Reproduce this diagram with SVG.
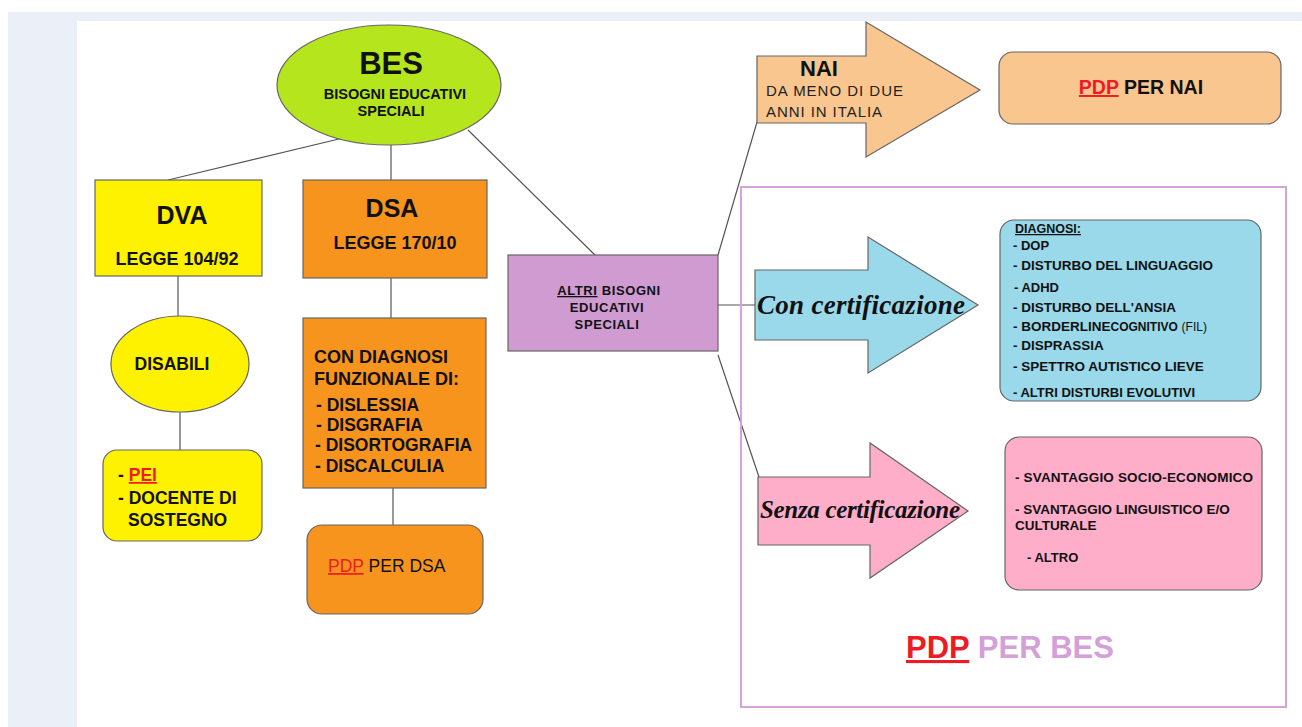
<svg xmlns="http://www.w3.org/2000/svg" width="1302" height="727" viewBox="0 0 1302 727">
<style>
.ln{stroke:#555;stroke-width:1.2;fill:none}
.bx{stroke:#666;stroke-width:1.2}
.b{font-family:"Liberation Sans",Arial,sans-serif;font-weight:bold;fill:#111}
.n{font-family:"Liberation Sans",Arial,sans-serif;fill:#111}
.red{fill:#ED1C24;text-decoration:underline}
.cur{font-family:"Liberation Serif","DejaVu Serif",serif;font-style:italic;font-weight:bold;fill:#111}
.cal{font-family:"Liberation Sans",Arial,sans-serif;fill:#222}
</style>
<rect x="0" y="0" width="1302" height="727" fill="#ffffff"/>
<rect x="8" y="12" width="1294" height="715" fill="#EBF0F8"/>
<rect x="77" y="21" width="1225" height="706" fill="#ffffff"/>

<g id="connectors">
<line class="ln" x1="343" y1="138" x2="168" y2="180"/>
<line class="ln" x1="391" y1="145" x2="391" y2="180"/>
<line class="ln" x1="468" y1="130" x2="595" y2="255"/>
<line class="ln" x1="178" y1="276" x2="178" y2="316"/>
<line class="ln" x1="180" y1="412" x2="180" y2="450"/>
<line class="ln" x1="391" y1="278" x2="391" y2="318"/>
<line class="ln" x1="393" y1="488" x2="393" y2="525"/>
<line class="ln" x1="718" y1="255" x2="757" y2="122"/>
<line class="ln" x1="718" y1="305" x2="757" y2="305"/>
<line class="ln" x1="718" y1="355" x2="759" y2="477"/>
</g>

<g id="frame">
<rect x="741" y="187" width="545" height="520" fill="none" stroke="#D6A2DA" stroke-width="2"/>
</g>

<g id="bes">
<ellipse cx="389" cy="85" rx="112" ry="60" fill="#B5E61D" stroke="#666" stroke-width="1.2"/>
<text class="b" x="391" y="74" font-size="31" text-anchor="middle">BES</text>
<text class="b" x="395" y="99" font-size="14.5" text-anchor="middle">BISOGNI EDUCATIVI</text>
<text class="b" x="391" y="116" font-size="14.5" text-anchor="middle">SPECIALI</text>
</g>

<g id="dva">
<rect class="bx" x="95" y="180" width="167" height="96" fill="#FFF200"/>
<text class="b" x="182" y="224" font-size="25" text-anchor="middle">DVA</text>
<text class="b" x="177" y="265" font-size="18" text-anchor="middle">LEGGE 104/92</text>
</g>

<g id="disabili">
<ellipse cx="180" cy="364" rx="69" ry="48" fill="#FFF200" stroke="#666" stroke-width="1.2"/>
<text class="b" x="172" y="370" font-size="17.5" text-anchor="middle">DISABILI</text>
</g>

<g id="pei">
<rect class="bx" x="103" y="450" width="159" height="91" rx="14" fill="#FFF200"/>
<text class="b" x="118" y="481" font-size="17.5">- <tspan class="red">PEI</tspan></text>
<text class="b" x="118" y="504" font-size="17.5">- DOCENTE DI</text>
<text class="b" x="128" y="526" font-size="17.5">SOSTEGNO</text>
</g>

<g id="dsa">
<rect class="bx" x="303" y="180" width="184" height="98" fill="#F7941D"/>
<text class="b" x="392" y="217" font-size="25" text-anchor="middle">DSA</text>
<text class="b" x="395" y="249" font-size="18" text-anchor="middle">LEGGE 170/10</text>
</g>

<g id="dsa-diagnosi">
<rect class="bx" x="303" y="318" width="183" height="170" fill="#F7941D"/>
<text class="b" x="314" y="363" font-size="18">CON DIAGNOSI</text>
<text class="b" x="314" y="385" font-size="18">FUNZIONALE DI:</text>
<text class="b" x="316" y="411" font-size="17.5">- DISLESSIA</text>
<text class="b" x="316" y="431" font-size="17.5">- DISGRAFIA</text>
<text class="b" x="315" y="451" font-size="17.5">- DISORTOGRAFIA</text>
<text class="b" x="315" y="472" font-size="17.5">- DISCALCULIA</text>
</g>

<g id="pdp-dsa">
<rect class="bx" x="307" y="525" width="176" height="89" rx="15" fill="#F7941D"/>
<text class="n" x="328" y="572" font-size="17.5"><tspan class="red">PDP</tspan> PER DSA</text>
</g>

<g id="altri">
<rect class="bx" x="508" y="255" width="210" height="96" fill="#CF9BD1"/>
<text class="b" x="609" y="295" font-size="13" letter-spacing="0.6" text-anchor="middle"><tspan text-decoration="underline">ALTRI</tspan> BISOGNI</text>
<text class="b" x="607" y="312" font-size="13" letter-spacing="0.6" text-anchor="middle">EDUCATIVI</text>
<text class="b" x="607" y="329" font-size="13" letter-spacing="0.6" text-anchor="middle">SPECIALI</text>
</g>

<g id="nai">
<polygon class="bx" points="757,56 866,56 866,22 980,90 866,157 866,123 757,123" fill="#F8C68E"/>
<text class="b" x="800" y="76" font-size="22">NAI</text>
<text class="cal" x="766" y="96" font-size="15" textLength="137">DA MENO DI DUE</text>
<text class="cal" x="766" y="117" font-size="15" textLength="116">ANNI IN ITALIA</text>
</g>

<g id="pdp-nai">
<rect class="bx" x="999" y="52" width="282" height="72" rx="14" fill="#F8C68E"/>
<text class="b" x="1141" y="94" font-size="19.5" text-anchor="middle"><tspan class="red">PDP</tspan> PER NAI</text>
</g>

<g id="con-cert">
<polygon class="bx" points="755,270 868,270 868,237 978,305 868,373 868,340 755,340" fill="#99D9EA"/>
<text class="cur" x="757" y="314" font-size="27" textLength="208">Con certificazione</text>
</g>

<g id="diagnosi">
<rect class="bx" x="1000" y="220" width="261" height="181" rx="14" fill="#99D9EA"/>
<text class="b" x="1015" y="233" font-size="12.5" text-decoration="underline">DIAGNOSI:</text>
<text class="b" x="1013" y="250" font-size="13">- DOP</text>
<text class="b" x="1013" y="270" font-size="13.5">- DISTURBO DEL LINGUAGGIO</text>
<text class="b" x="1014" y="292" font-size="13">- ADHD</text>
<text class="b" x="1013" y="312" font-size="13.5">- DISTURBO DELL'ANSIA</text>
<text class="b" x="1013" y="331" font-size="13.5">- BORDERLINE<tspan font-size="12">COGNITIVO</tspan> <tspan class="n" font-weight="normal" font-size="12">(FIL)</tspan></text>
<text class="b" x="1013" y="350" font-size="13.5">- DISPRASSIA</text>
<text class="b" x="1013" y="371" font-size="13.5">- SPETTRO AUTISTICO LIEVE</text>
<text class="b" x="1013" y="397" font-size="13">- ALTRI DISTURBI EVOLUTIVI</text>
</g>

<g id="senza-cert">
<polygon class="bx" points="758,477 870,477 870,443 968,511 870,578 870,545 758,545" fill="#FFAEC9"/>
<text class="cur" x="760" y="518" font-size="25" textLength="200">Senza certificazione</text>
</g>

<g id="svantaggio">
<rect class="bx" x="1005" y="437" width="257" height="153" rx="14" fill="#FFAEC9"/>
<text class="b" x="1015" y="482" font-size="13.5" textLength="238">- SVANTAGGIO SOCIO-ECONOMICO</text>
<text class="b" x="1015" y="514" font-size="13.5">- SVANTAGGIO LINGUISTICO E/O</text>
<text class="b" x="1015" y="530" font-size="13.5">CULTURALE</text>
<text class="b" x="1027" y="562" font-size="13">- ALTRO</text>
</g>

<g id="pdp-bes">
<text class="b" x="906" y="658" font-size="31"><tspan class="red">PDP</tspan> <tspan fill="#D4A0D8">PER BES</tspan></text>
</g>
</svg>
